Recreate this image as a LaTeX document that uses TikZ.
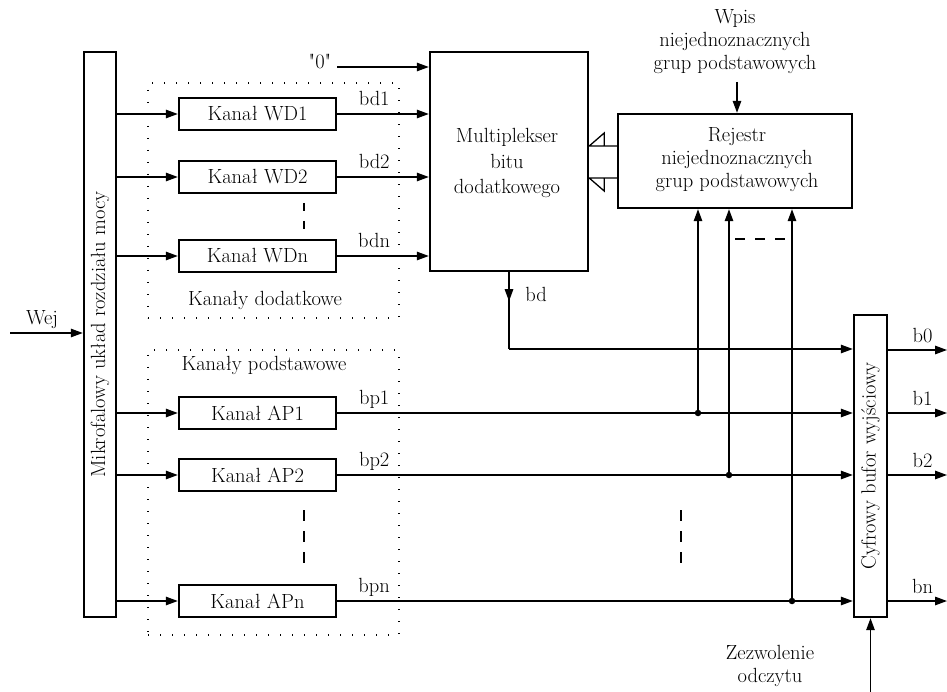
\documentclass[tikz,border=0pt]{standalone}
\usetikzlibrary{arrows.meta}
\begin{document}
\begin{tikzpicture}[x=1pt,y=-1pt,
  font=\fontsize{20.5}{23}\selectfont,
  box/.style={draw, line width=2.4pt, inner sep=0pt},
  ln/.style={line width=1.3pt},
  arr/.style={ln, -{Triangle[length=12pt,width=8.5pt]}},
  dotbox/.style={draw, line width=1.4pt, dash pattern=on 1.4pt off 10.6pt},
  dsh/.style={ln, dash pattern=on 10pt off 10pt},
  lbl/.style={anchor=base, inner sep=0pt},
  jdot/.style={circle, fill, inner sep=0pt, minimum size=6.5pt}]
\useasboundingbox (0,0) rectangle (947,692);

% left splitter
\node[box, minimum width=32pt, minimum height=565pt] (mik) at (100,334.5) {};
\node[rotate=90] (mikt) at (mik.center) {Mikrofalowy układ rozdziału mocy};
\coordinate (wej) at (10,333);
\draw[arr] (wej) -- (mik.west |- wej);
\node[lbl] (wejl) at (42,324) {Wej};

% dotted groups
\node[dotbox, minimum width=251pt, minimum height=235pt] (grpd) at (273.5,200.5) {};
\node (grpdl) at (265,300) {Kanały dodatkowe};
\node[dotbox, minimum width=251pt, minimum height=285pt] (grpp) at (273.5,492.5) {};
\node (grppl) at (264,365) {Kanały podstawowe};

% channel boxes
\foreach \n/\t/\y in {wd1/Kanał WD1/114, wd2/Kanał WD2/177, wdn/Kanał WDn/256,
                       ap1/Kanał AP1/413, ap2/Kanał AP2/475, apn/Kanał APn/601}{
  \node[box, minimum width=157pt, minimum height=32pt] (\n) at (257.5,\y) {\t};
  \draw[arr] (mik.east |- \n) -- (\n.west);
}
\draw[ln, dash pattern=on 8pt off 10pt] (304,203) -- (304,229);
\draw[ln, dash pattern=on 11pt off 10pt] (304,510) -- (304,563);

% multiplexer
\node[box, minimum width=158pt, minimum height=219pt] (mux) at (509,161.5) {};
\node[align=center, font=\fontsize{20.5}{25.5}\selectfont] (muxt) at (507,163) {Multiplekser\\bitu\\dodatkowego};
\node (zero) at (320,62) {\textquotedbl 0\textquotedbl};
\coordinate (z0) at (337,67);
\draw[arr] (z0) -- (mux.west |- z0);
\foreach \n/\l in {wd1/bd1, wd2/bd2, wdn/bdn}{
  \draw[arr] (\n.east) -- (mux.west |- \n);
  \node[lbl] (\n l) at ([xshift=37pt,yshift=8.5pt]\n.east) {\l};
}

% register
\node[box, minimum width=234pt, minimum height=94pt] (reg) at (735,161) {};
\node[align=center] (regt) at (737,160) {Rejestr\\niejednoznacznych\\grup podstawowych};
\node[align=center] (wpis) at (735,42) {Wpis\\niejednoznacznych\\grup podstawowych};
\coordinate (wp) at (737,82);
\draw[arr] (wp) -- (wp |- reg.north);
% bus arrows register -> multiplexer
\coordinate (bus1) at (reg.west |- 0,146);
\coordinate (bus2) at (reg.west |- 0,178);
\draw[ln] (bus1) -- (mux.east |- bus1) -- ++(15,-13) -- ++(0,13);
\draw[ln] (bus2) -- (mux.east |- bus2) -- ++(15,13) -- ++(0,-13);

% output buffer
\node[box, minimum width=33pt, minimum height=302pt] (buf) at (870.5,466) {};
\node[rotate=90] (buft) at (buf.center) {Cyfrowy bufor wyjściowy};

% bd path
\coordinate (bdy) at (mux.south |- 0,349);
\draw[ln] (mux.south) -- (bdy);
\draw[arr] (mux.south) -- ++(0,29);
\node[lbl] (bdl) at (536,302) {bd};
\draw[arr] (bdy) -- (buf.west |- bdy);

% basic channels to buffer
\foreach \n/\l in {ap1/bp1, ap2/bp2, apn/bpn}{
  \draw[arr] (\n.east) -- (buf.west |- \n);
  \node[lbl] (\n l) at ([xshift=37pt,yshift=8.5pt]\n.east) {\l};
}

% taps to register
\node[jdot] (j1) at (698,413) {};
\node[jdot] (j2) at (729,475) {};
\node[jdot] (jn) at (792,601) {};
\foreach \j in {j1,j2,jn}{ \draw[arr] (\j.center) -- (\j |- reg.south); }
\draw[dsh] (735,239) -- (785,239);
\draw[ln, dash pattern=on 11pt off 10pt] (681,510) -- (681,563);

% outputs
\foreach \c/\y/\l in {o0/350/b0, o1/413/b1, o2/475/b2, on/601/bn}{
  \coordinate (\c s) at (buf.east |- 0,\y);
  \coordinate (\c e) at (947,\y);
  \draw[arr] (\c s) -- (\c e);
  \node[lbl] (\c l) at (922.5,\y-8) {\l};
}

% read enable
\coordinate (en) at (870.5,692);
\draw[arr] (en) -- (buf.south);
\node[align=center] (enl) at (770,666) {Zezwolenie\\odczytu};
\end{tikzpicture}
\end{document}
